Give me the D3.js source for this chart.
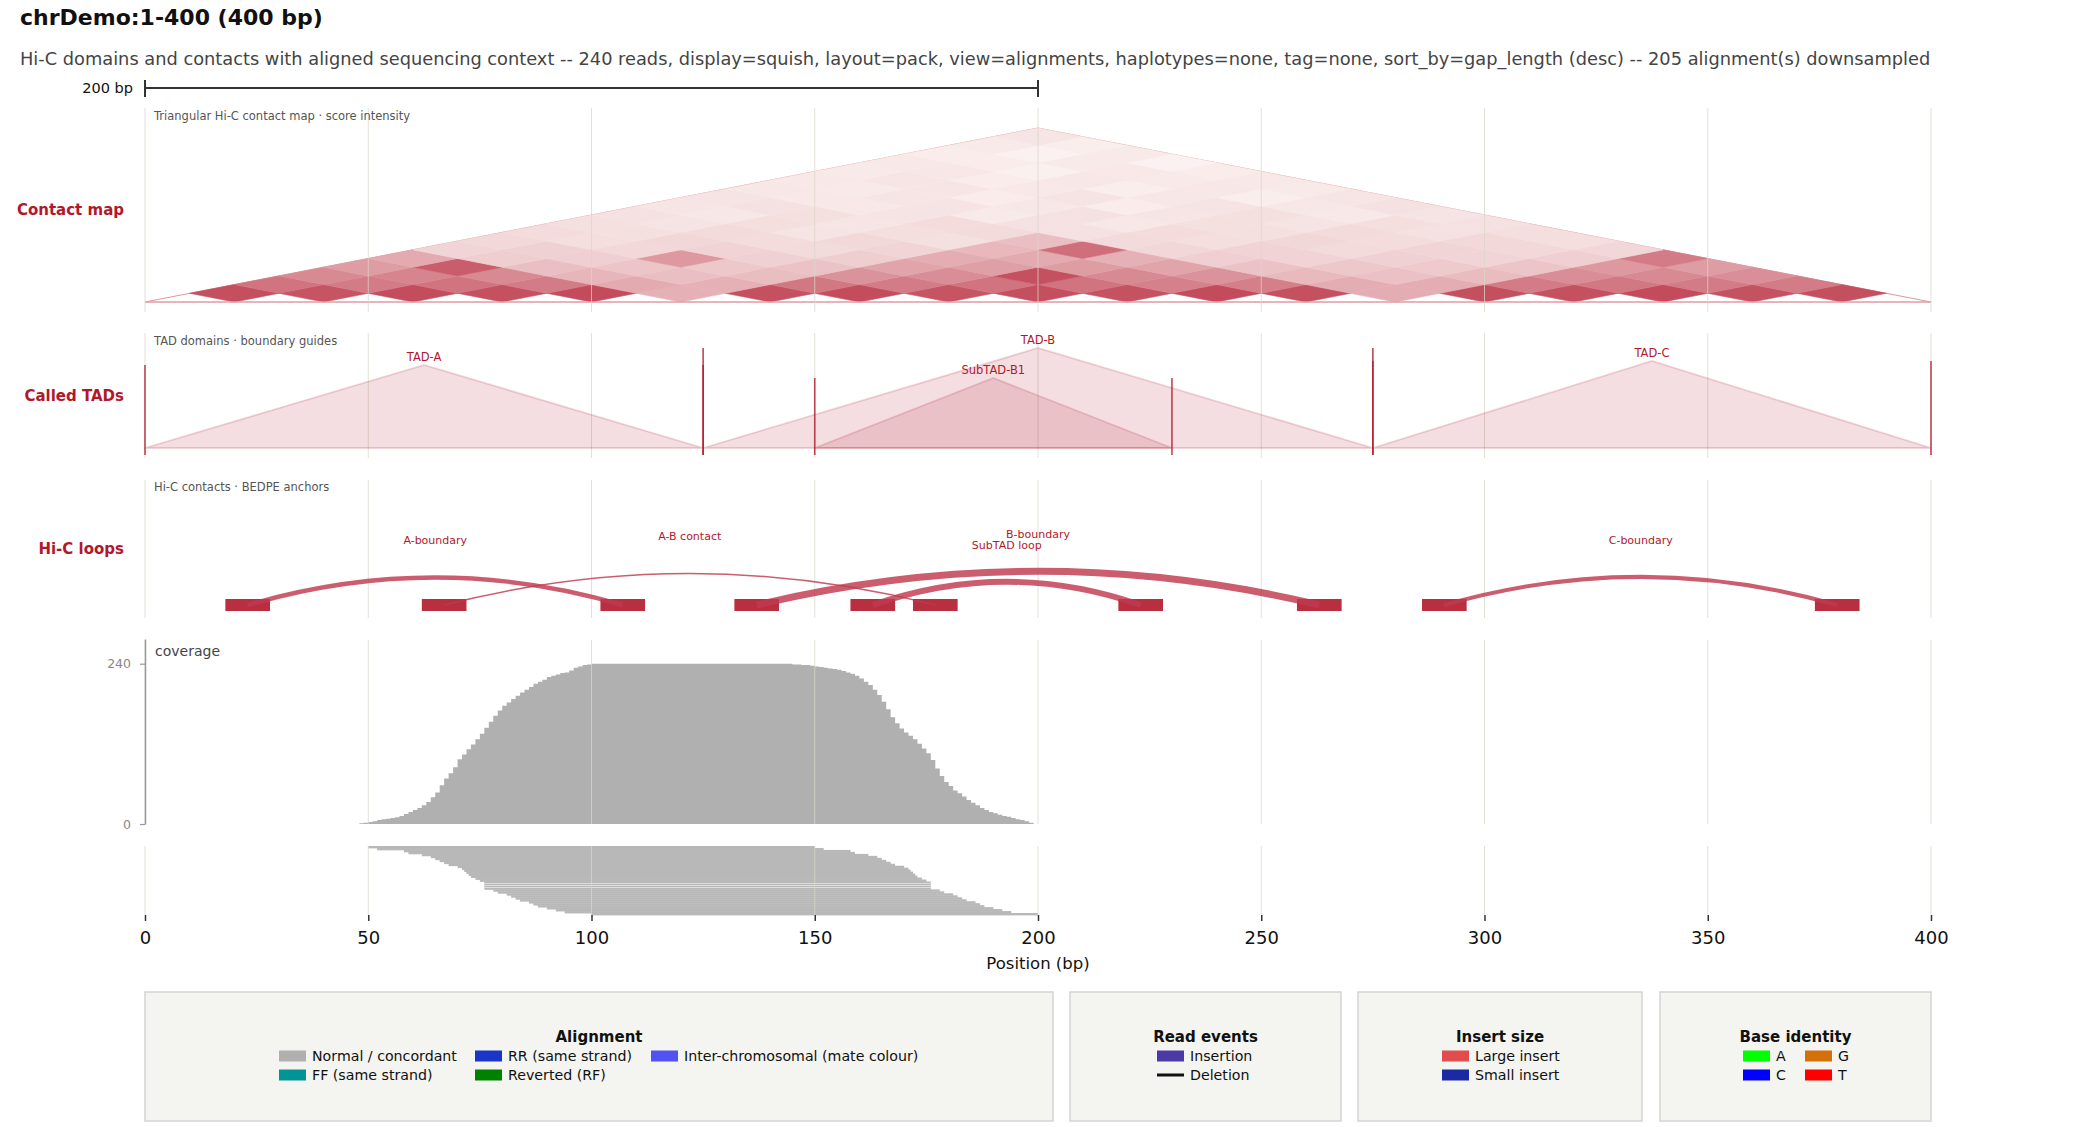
<!DOCTYPE html>
<html><head><meta charset="utf-8">
<script src="https://cdn.jsdelivr.net/npm/d3@7"></script>
<style>
body{margin:0;background:#fff}
svg{display:block}
text{font-family:"DejaVu Sans",sans-serif}
</style></head>
<body><svg id="c" width="2100" height="1127"></svg>
<script>
// ---------------- DATA ----------------
const titleText = "chrDemo:1-400 (400 bp)";
const subtitleText = "Hi-C domains and contacts with aligned sequencing context -- 240 reads, display=squish, layout=pack, view=alignments, haplotypes=none, tag=none, sort_by=gap_length (desc) -- 205 alignment(s) downsampled";
const xDomain = [0, 400];
const xTicks = [0, 50, 100, 150, 200, 250, 300, 350, 400];
const scaleBarBp = 200;

// contact map: 20 bp bins, one array per diagonal distance (j - i)
const contactBin = 20;
const diag1  = [0.93,0.90,0.94,0.92,0.95,0.38,0.92,0.94,0.90,0.93,0.91,0.95,0.92,0.40,0.93,0.92,0.95,0.91,0.93];
const diag2  = [0.72,0.68,0.72,0.68,0.42,0.38,0.70,0.68,0.72,0.72,0.65,0.66,0.40,0.40,0.68,0.70,0.68,0.68];
const diag3  = [0.60,0.63,0.60,0.35,0.30,0.31,0.55,0.58,0.92,0.60,0.55,0.33,0.29,0.32,0.58,0.60,0.57];
const diag4  = [0.50,0.85,0.30,0.27,0.25,0.28,0.45,0.48,0.50,0.45,0.28,0.25,0.24,0.27,0.52,0.50];
const diag5  = [0.42,0.22,0.21,0.52,0.20,0.22,0.40,0.42,0.38,0.21,0.19,0.20,0.18,0.21,0.68];
const diag6  = [0.18,0.20,0.16,0.19,0.15,0.18,0.34,0.75,0.17,0.19,0.15,0.18,0.16,0.17];
const diag7  = [0.16,0.13,0.17,0.14,0.16,0.12,0.30,0.15,0.13,0.17,0.14,0.16,0.13];
const diag8  = [0.14,0.12,0.15,0.10,0.13,0.15,0.11,0.14,0.12,0.15,0.11,0.13];
const diag9  = [0.12,0.10,0.13,0.09,0.14,0.11,0.08,0.12,0.10,0.13,0.11];
const diag10 = [0.11,0.08,0.12,0.10,0.06,0.11,0.09,0.12,0.07,0.10];
const diag11 = [0.09,0.11,0.07,0.10,0.08,0.05,0.10,0.08,0.11];
const diag12 = [0.10,0.07,0.09,0.05,0.10,0.08,0.04,0.09];
const diag13 = [0.08,0.06,0.09,0.07,0.04,0.08,0.06];
const diag14 = [0.07,0.09,0.05,0.08,0.06,0.07];
const diag15 = [0.06,0.08,0.03,0.07,0.05];
const diag16 = [0.07,0.05,0.06,0.02];
const diag17 = [0.05,0.02,0.06];
const diag18 = [0.06,0.04];
const diag19 = [0.09];
const contactDiagonals = [diag1,diag2,diag3,diag4,diag5,diag6,diag7,diag8,diag9,diag10,diag11,diag12,diag13,diag14,diag15,diag16,diag17,diag18,diag19];

// TADs
const tadNames  = ["TAD-A", "TAD-B", "SubTAD-B1", "TAD-C"];
const tadStarts = [0, 125, 150, 275];
const tadEnds   = [125, 275, 230, 400];
const tadScores = [0.83, 1.0, 0.70, 0.87];

// loops (BEDPE)
const loopNames   = ["A-boundary", "A-B contact", "B-boundary", "SubTAD loop", "C-boundary"];
const loopStart1  = [18, 62, 132, 158, 286];
const loopStart2  = [102, 172, 258, 218, 374];
const loopAnchorW = 10;
const loopScores  = [0.60, 0.20, 0.95, 0.80, 0.55];

// coverage: per-bp depth starting at coverageStart
const coverageStart = 48;
const coverageValues = [
  1,2,3,4,6,7,8,9,10,12,15,18,21,24,28,33,40,47,58,68,76,85,97,104,112,119,127,135,144,153,
  162,170,177,182,187,192,197,201,205,210,213,216,220,222,224,226,227,230,234,236,238,239,
  240,240,240,240,240,240,240,240,240,240,240,240,240,240,240,240,240,240,240,240,240,240,240,
  240,240,240,240,240,240,240,240,240,240,240,240,240,240,240,240,240,240,240,240,240,240,
  239,239,238,238,237,236,235,234,233,232,231,229,227,225,222,218,213,208,201,193,183,172,160,
  151,143,137,132,127,120,113,106,96,83,72,63,57,50,46,41,36,32,28,24,21,18,16,14,12,11,9,7,6,4,2];
const coverageTicks = [0, 240];

// alignments shown (squish), one read per row, 100 bp reads
const readLength = 100;
const readStarts = [50,52,58,59,62,64,65,66,67,68,70,71,71.5,72,72.5,73,74,75,76,76,76,76,78,79,81,82,83,84,86,87,88,90,92,94,100];

// legend
const legAlignLabels = ["Normal / concordant","FF (same strand)","RR (same strand)","Reverted (RF)","Inter-chromosomal (mate colour)"];
const legAlignColors = ["#b0b0b0","#009494","#1a35c8","#008000","#5252f2"];
const legEventLabels = ["Insertion","Deletion"];
const legEventColors = ["#4b3aa6","#111111"];
const legInsertLabels = ["Large insert","Small insert"];
const legInsertColors = ["#e24c4c","#1a2aa3"];
const legBaseLabels = ["A","C","G","T"];
const legBaseColors = ["#00ff00","#0000ff","#d4700a","#ff0000"];

// ---------------- DRAW ----------------
const svg = d3.select("#c");
const CRIMSON = "#b2182b";
const x = d3.scaleLinear().domain(xDomain).range([145, 1931]);
const panels = {contact:[108,312], tads:[333,458], loops:[480,618], coverage:[640,824], reads:[846,915]};

// title & subtitle
svg.append("text").attr("x",20).attr("y",25).attr("font-size",22).attr("font-weight","bold").attr("fill","#111").text(titleText);
svg.append("text").attr("x",20).attr("y",65).attr("font-size",17.8).attr("fill","#444").text(subtitleText);

// scale bar
const sb = svg.append("g").attr("stroke","#333").attr("stroke-width",2);
sb.append("line").attr("x1",x(0)).attr("x2",x(scaleBarBp)).attr("y1",88).attr("y2",88);
sb.append("line").attr("x1",x(0)).attr("x2",x(0)).attr("y1",80).attr("y2",97);
sb.append("line").attr("x1",x(scaleBarBp)).attr("x2",x(scaleBarBp)).attr("y1",80).attr("y2",97);
svg.append("text").attr("x",133).attr("y",88).attr("dy","0.35em").attr("text-anchor","end").attr("font-size",14.5).attr("fill","#111").text(scaleBarBp + " bp");

function panelLabel(txt, p){
  svg.append("text").attr("x",124).attr("y",(p[0]+p[1])/2).attr("dy","0.35em").attr("text-anchor","end")
    .attr("font-size",15).attr("font-weight","bold").attr("fill",CRIMSON).text(txt);
}
function caption(txt, y){
  svg.append("text").attr("x",154).attr("y",y).attr("dy","0.35em").attr("font-size",11.5).attr("fill","#555").text(txt);
}
function grid(p){
  svg.append("g").selectAll("line").data(xTicks).join("line")
    .attr("x1",d=>x(d)).attr("x2",d=>x(d)).attr("y1",p[0]).attr("y2",p[1])
    .attr("stroke","#d9d5c8").attr("stroke-opacity",0.75).attr("stroke-width",1);
}

// ---- contact map ----
const b = contactBin;
const yH = d3.scaleLinear().domain([0, (xDomain[1]-xDomain[0])/2]).range([302, 128]);
const col = d3.interpolateRgb("rgb(252,245,243)", "rgb(192,66,83)");
svg.append("path")
  .attr("d", `M${x(0)},${yH(0)}L${x(200)},${yH(200)}L${x(400)},${yH(0)}`)
  .attr("fill","none").attr("stroke",CRIMSON).attr("stroke-opacity",0.45).attr("stroke-width",1);
const cells = [];
contactDiagonals.forEach((arr, di) => {
  const d = di + 1;
  arr.forEach((v, i) => {
    const j = i + d;
    cells.push({v, pts:[[(i+j+1)*b/2,(d-1)*b/2],[(i+j+2)*b/2,d*b/2],[(i+j+1)*b/2,(d+1)*b/2],[(i+j)*b/2,d*b/2]]});
  });
});
svg.append("g").selectAll("path").data(cells).join("path")
  .attr("d", c => "M" + c.pts.map(p => x(p[0]) + "," + yH(p[1])).join("L") + "Z")
  .attr("fill", c => col(c.v)).attr("stroke", c => col(c.v)).attr("stroke-width",0.6);
svg.append("line").attr("x1",x(0)).attr("x2",x(400)).attr("y1",yH(0)).attr("y2",yH(0))
  .attr("stroke","#e39aa4").attr("stroke-width",1.5);
grid(panels.contact);
caption("Triangular Hi-C contact map · score intensity", 116);
panelLabel("Contact map", panels.contact);

// ---- TADs ----
grid(panels.tads);
const yT = d3.scaleLinear().domain([0,1]).range([448,348]);
const tads = tadNames.map((n,k)=>({n, s:tadStarts[k], e:tadEnds[k], sc:tadScores[k]}));
svg.append("g").selectAll("path").data(tads).join("path")
  .attr("d", t => `M${x(t.s)},${yT(0)}L${x((t.s+t.e)/2)},${yT(t.sc)}L${x(t.e)},${yT(0)}Z`)
  .attr("fill",CRIMSON).attr("fill-opacity",0.14).attr("stroke",CRIMSON).attr("stroke-opacity",0.18).attr("stroke-width",1.8);
tads.forEach(t => {
  [t.s, t.e].forEach(p => {
    svg.append("line").attr("x1",x(p)).attr("x2",x(p)).attr("y1",yT(t.sc)).attr("y2",455)
      .attr("stroke",CRIMSON).attr("stroke-opacity",0.8).attr("stroke-width",1.6);
  });
  svg.append("text").attr("x",x((t.s+t.e)/2)).attr("y",yT(t.sc)-8.5).attr("dy","0.35em").attr("text-anchor","middle")
    .attr("font-size",11.5).attr("fill",CRIMSON).text(t.n);
});
caption("TAD domains · boundary guides", 341);
panelLabel("Called TADs", panels.tads);

// ---- loops ----
grid(panels.loops);
const anchorY = 605;
const hS = d3.scaleSqrt().domain([0,400]).range([0,60]);
const wS = d3.scaleLinear().domain([0,1]).range([0,7.4]);
const anchors = [];
loopNames.forEach((n,k)=>{ anchors.push(loopStart1[k]); anchors.push(loopStart2[k]); });
svg.append("g").selectAll("rect").data(anchors).join("rect")
  .attr("x",a=>x(a)).attr("width",a=>x(a+loopAnchorW)-x(a)).attr("y",anchorY-6).attr("height",12)
  .attr("fill",CRIMSON).attr("fill-opacity",0.9);
loopNames.forEach((n,k)=>{
  const c1 = loopStart1[k] + loopAnchorW/2, c2 = loopStart2[k] + loopAnchorW/2;
  const h = hS(c2 - c1);
  svg.append("path").attr("d",`M${x(c1)},${anchorY}Q${x((c1+c2)/2)},${anchorY-2*h} ${x(c2)},${anchorY}`)
    .attr("fill","none").attr("stroke","#c0394f").attr("stroke-opacity",0.82).attr("stroke-width",wS(loopScores[k]));
  svg.append("text").attr("x",x((c1+c2)/2)).attr("y",anchorY-h-37).attr("dy","0.35em").attr("text-anchor","middle")
    .attr("font-size",11).attr("fill",CRIMSON).text(n);
});
caption("Hi-C contacts · BEDPE anchors", 487);
panelLabel("Hi-C loops", panels.loops);

// ---- coverage ----
const yC = d3.scaleLinear().domain([0,277]).range([824,639]);
const covPts = coverageValues.map((v,i)=>[coverageStart+i, v]);
covPts.push([coverageStart+coverageValues.length, coverageValues[coverageValues.length-1]]);
svg.append("path").datum(covPts)
  .attr("d", d3.area().curve(d3.curveStepAfter).x(p=>x(p[0])).y0(yC(0)).y1(p=>yC(p[1])))
  .attr("fill","#b0b0b0");
grid(panels.coverage);
const yAx = svg.append("g").attr("transform","translate(145,0)")
  .call(d3.axisLeft(yC).tickValues(coverageTicks).tickSize(5).tickSizeOuter(0).tickPadding(9));
yAx.select(".domain").attr("stroke","#999").attr("stroke-width",1.5);
yAx.selectAll(".tick line").attr("stroke","#999").attr("stroke-width",1.2);
yAx.selectAll(".tick text").attr("font-size",12.5).attr("fill","#888").attr("font-family",'"DejaVu Sans",sans-serif');
svg.append("text").attr("x",155).attr("y",651).attr("dy","0.35em").attr("font-size",14).attr("fill","#444").text("coverage");

// ---- alignments ----
const rowPitch = (panels.reads[1]-panels.reads[0]) / readStarts.length;
svg.append("g").selectAll("rect").data(readStarts).join("rect")
  .attr("x",s=>x(s)).attr("width",s=>x(s+readLength)-x(s))
  .attr("y",(s,k)=>panels.reads[0]+k*rowPitch).attr("height",rowPitch+0.4).attr("fill","#b8b8b8");
readStarts.forEach((s,k)=>{
  if(k>0 && readStarts[k-1]===s){
    svg.append("rect").attr("x",x(s)).attr("width",x(s+readLength)-x(s))
      .attr("y",panels.reads[0]+k*rowPitch-0.25).attr("height",0.5).attr("fill","#fff");
  }
});
grid(panels.reads);

// ---- x axis ----
const xAx = svg.append("g").attr("transform","translate(0,915)")
  .call(d3.axisBottom(x).tickValues(xTicks).tickSize(6).tickPadding(10).tickFormat(d3.format("d")));
xAx.select(".domain").remove();
xAx.selectAll(".tick line").attr("stroke","#333").attr("stroke-width",1.5);
xAx.selectAll(".tick text").attr("font-size",18).attr("fill","#111").attr("font-family",'"DejaVu Sans",sans-serif');
svg.append("text").attr("x",x(200)).attr("y",963).attr("dy","0.35em").attr("text-anchor","middle")
  .attr("font-size",16.5).attr("fill","#111").text("Position (bp)");

// ---- legend ----
const legendBoxes = [
  {title:"Alignment", x0:145, x1:1053, labels:legAlignLabels, colors:legAlignColors, cols:[279,475,651]},
  {title:"Read events", x0:1070, x1:1341, labels:legEventLabels, colors:legEventColors, cols:[1157]},
  {title:"Insert size", x0:1358, x1:1642, labels:legInsertLabels, colors:legInsertColors, cols:[1442]},
  {title:"Base identity", x0:1660, x1:1931, labels:legBaseLabels, colors:legBaseColors, cols:[1743,1805]}
];
const rowsY = [1056, 1075];
legendBoxes.forEach(L=>{
  svg.append("rect").attr("x",L.x0).attr("y",992).attr("width",L.x1-L.x0).attr("height",129)
    .attr("fill","#f4f4f0").attr("stroke","#d4d4d4").attr("stroke-width",1.5);
  svg.append("text").attr("x",(L.x0+L.x1)/2).attr("y",1037).attr("dy","0.35em").attr("text-anchor","middle")
    .attr("font-size",15).attr("font-weight","bold").attr("fill","#111").text(L.title);
  L.labels.forEach((lab,k)=>{
    const cx = L.cols[Math.floor(k/2)], cy = rowsY[k%2];
    if(lab==="Deletion"){
      svg.append("line").attr("x1",cx).attr("x2",cx+27).attr("y1",cy).attr("y2",cy).attr("stroke",L.colors[k]).attr("stroke-width",3);
    } else {
      svg.append("rect").attr("x",cx).attr("y",cy-5.5).attr("width",27).attr("height",11).attr("fill",L.colors[k]);
    }
    svg.append("text").attr("x",cx+33).attr("y",cy).attr("dy","0.35em").attr("font-size",14.2).attr("fill","#111").text(lab);
  });
});
</script>
</body></html>
